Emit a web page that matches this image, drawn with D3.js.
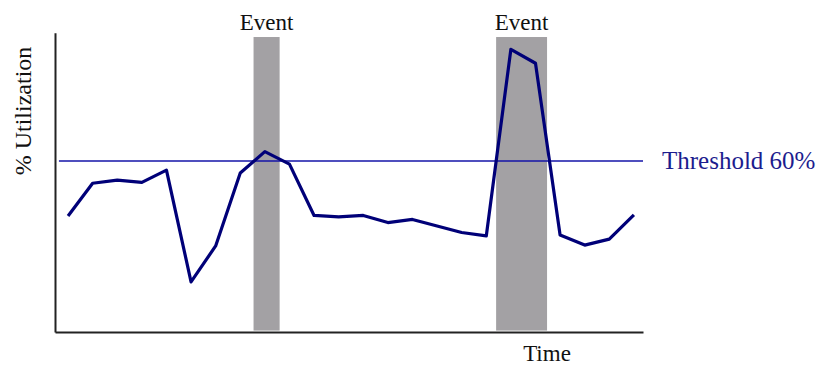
<!DOCTYPE html>
<html>
<head>
<meta charset="utf-8">
<script src="https://cdn.jsdelivr.net/npm/d3@7"></script>
<style>
  html, body { margin: 0; padding: 0; background: #fff; }
  svg { display: block; }
  text { font-family: "Liberation Serif", "Times New Roman", serif; }
</style>
</head>
<body>
<svg id="chart" width="817" height="365"></svg>
<script>
// ---- data ----
const timeIndex = d3.range(24);
const utilization = [40.7, 52.2, 53.3, 52.5, 56.8, 17.6, 30.2, 55.8, 63.3, 58.9,
                     40.9, 40.4, 40.9, 38.4, 39.5, 37.2, 34.9, 33.7, 99.2, 94.3,
                     34.0, 30.5, 32.6, 41.1];
const eventLabels = ["Event", "Event"];
const eventStart = [7.54, 17.4];
const eventEnd = [8.6, 19.47];
const thresholdValue = [60];
const thresholdLabel = ["Threshold 60%"];
const xTitle = ["Time"];
const yTitle = ["% Utilization"];

// ---- layout ----
const svg = d3.select("#chart");
const x = d3.scaleLinear().domain([-0.53, 23.37]).range([55, 643]);
const y = d3.scaleLinear().domain([0, 100]).range([332, 47]);

// event bands
const events = eventStart.map((s, i) => ({ s, e: eventEnd[i], label: eventLabels[i] }));
svg.selectAll("rect.band").data(events).enter().append("rect")
  .attr("class", "band")
  .attr("x", d => x(d.s))
  .attr("width", d => x(d.e) - x(d.s))
  .attr("y", y(103.5))
  .attr("height", y(0.5) - y(103.5))
  .attr("fill", "#a3a1a4");

svg.selectAll("text.ev").data(events).enter().append("text")
  .attr("class", "ev")
  .attr("x", d => (x(d.s) + x(d.e)) / 2)
  .attr("y", 30)
  .attr("text-anchor", "middle")
  .attr("font-size", 23)
  .attr("fill", "#111")
  .text(d => d.label);

// threshold
svg.append("line")
  .attr("x1", x(-0.37)).attr("x2", x(23.37))
  .attr("y1", y(thresholdValue[0])).attr("y2", y(thresholdValue[0]))
  .attr("stroke", "#1414a8").attr("stroke-width", 1.6);
svg.append("text")
  .attr("x", 662).attr("y", y(thresholdValue[0]) + 8)
  .attr("font-size", 25)
  .attr("fill", "#1c1c8e")
  .text(thresholdLabel[0]);

// series line
const line = d3.line().x((d, i) => x(timeIndex[i])).y(d => y(d));
svg.append("path")
  .datum(utilization)
  .attr("d", line)
  .attr("fill", "none")
  .attr("stroke", "#000078")
  .attr("stroke-width", 3.2)
  .attr("stroke-linejoin", "round");

// axes (plain lines, no ticks)
const xAxis = d3.axisBottom(x).tickValues([]).tickSizeOuter(0);
svg.append("g").attr("transform", `translate(0,${y(0)})`).call(xAxis)
  .select(".domain").attr("stroke", "#222").attr("stroke-width", 2);
const yAxis = d3.axisLeft(y).tickValues([]).tickSizeOuter(0);
const yAx = svg.append("g").attr("transform", `translate(${x(-0.53)},0)`);
yAx.call(yAxis.scale(d3.scaleLinear().domain([0, 105]).range([y(0), y(105)])));
yAx.select(".domain").attr("stroke", "#222").attr("stroke-width", 2);

// titles
svg.append("text")
  .attr("x", 547).attr("y", 361)
  .attr("text-anchor", "middle")
  .attr("font-size", 23)
  .attr("fill", "#111")
  .text(xTitle[0]);
svg.append("text")
  .attr("transform", "translate(31,111) rotate(-90)")
  .attr("text-anchor", "middle")
  .attr("font-size", 24)
  .attr("fill", "#111")
  .text(yTitle[0]);
</script>
</body>
</html>
